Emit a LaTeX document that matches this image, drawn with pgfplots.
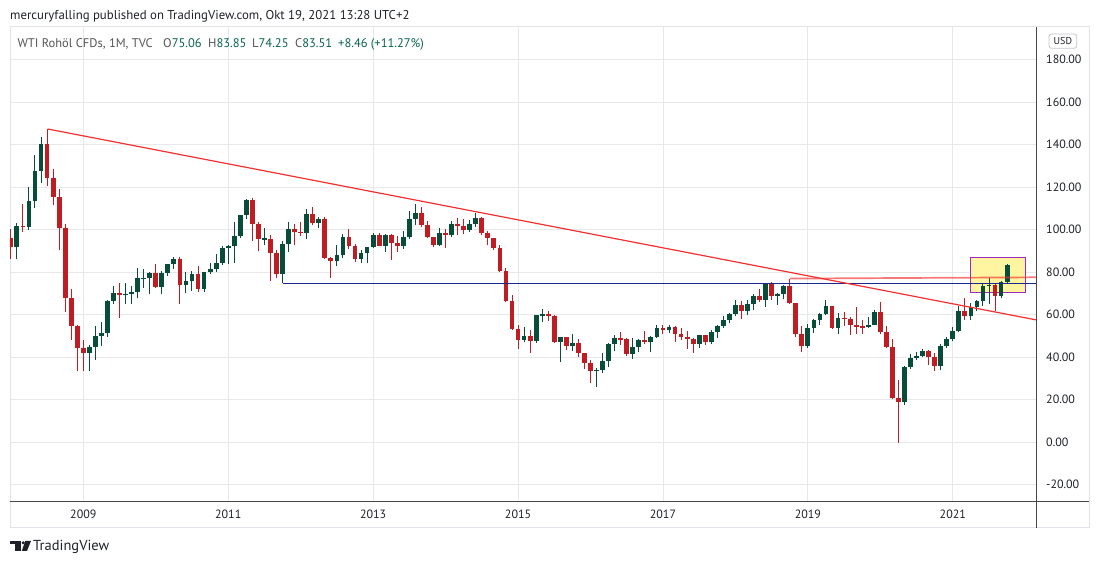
\documentclass[border=0pt]{standalone}
\usepackage{fontspec}
\setmainfont{PT Sans}
\usepackage{pgfplots}
\pgfplotsset{compat=1.18}
\usepackage{pgfplotstable}

\definecolor{upc}{RGB}{8,77,58}
\definecolor{dnc}{RGB}{190,30,35}
\definecolor{gridc}{RGB}{230,232,236}
\definecolor{framec}{RGB}{224,227,235}
\definecolor{axc}{RGB}{70,72,80}
\definecolor{txt}{RGB}{30,33,40}
\definecolor{trend}{RGB}{242,48,48}
\definecolor{navy}{RGB}{28,40,140}
\definecolor{boxfill}{RGB}{255,245,160}
\definecolor{boxline}{RGB}{160,40,190}
\definecolor{legg}{RGB}{85,85,85}
\definecolor{legv}{RGB}{8,100,78}

\pgfplotstableread{
m o h l c
0 96.0 100.1 86.1 91.8
1 91.8 103.0 86.1 101.8
2 101.8 111.8 98.7 101.4
3 101.4 119.9 99.6 113.5
4 113.5 135.1 110.1 127.4
5 127.4 143.7 122.0 140.0
6 140.0 147.3 120.4 124.1
7 124.1 128.6 111.3 115.5
8 115.5 118.9 90.2 100.6
9 100.6 102.8 61.3 67.8
10 67.8 71.9 48.0 54.4
11 54.4 55.0 33.5 44.0
12 44.0 48.0 33.2 41.7
13 41.7 45.6 33.4 44.8
14 44.8 54.7 38.7 49.7
15 49.7 56.5 45.3 51.1
16 51.1 66.6 49.3 66.3
17 66.3 73.4 64.9 69.9
18 69.9 75.0 58.3 69.4
19 69.4 75.0 65.0 69.8
20 69.8 73.4 65.0 70.6
21 70.6 82.0 67.6 77.0
22 77.0 81.5 72.4 77.3
23 77.3 80.0 69.5 79.4
24 79.4 83.9 72.4 72.9
25 72.9 80.5 69.5 79.7
26 79.7 83.9 78.3 83.8
27 83.8 87.1 81.4 86.2
28 86.2 87.0 65.0 74.0
29 74.0 79.9 69.9 75.6
30 75.6 80.3 71.1 79.0
31 79.0 82.9 70.8 71.9
32 71.9 80.1 70.8 80.0
33 80.0 84.4 79.0 81.4
34 81.4 88.6 79.9 84.1
35 84.1 92.0 83.1 91.4
36 91.4 92.6 83.9 92.2
37 92.2 103.4 84.1 97.0
38 97.0 107.0 96.0 106.7
39 106.7 114.2 104.9 113.9
40 113.9 114.8 94.6 102.7
41 102.7 103.4 89.7 95.4
42 95.4 100.6 92.6 95.7
43 95.7 97.5 75.7 88.8
44 88.8 90.5 77.1 79.2
45 79.2 94.7 74.9 93.2
46 93.2 103.4 89.2 100.4
47 100.4 102.4 92.5 98.8
48 98.8 103.7 97.0 98.5
49 98.5 109.8 95.4 107.1
50 107.1 110.6 102.1 103.0
51 103.0 106.0 100.7 104.9
52 104.9 106.1 86.2 86.5
53 86.5 86.9 77.3 85.0
54 85.0 92.9 82.9 88.1
55 88.1 97.8 86.8 96.5
56 96.5 100.4 90.8 92.2
57 92.2 93.2 84.9 86.2
58 86.2 90.3 84.1 88.9
59 88.9 91.9 84.1 91.8
60 91.8 98.2 91.4 97.5
61 97.5 98.2 92.0 92.1
62 92.1 97.7 89.3 97.2
63 97.2 97.8 85.6 93.5
64 93.5 97.0 89.6 92.0
65 92.0 99.2 90.8 96.6
66 96.6 108.9 95.7 105.0
67 105.0 112.2 102.2 107.7
68 107.7 110.7 101.4 102.3
69 102.3 104.0 95.8 96.4
70 96.4 96.7 91.8 92.7
71 92.7 100.8 92.2 98.4
72 98.4 100.0 91.2 97.5
73 97.5 103.8 96.6 102.6
74 102.6 105.2 97.4 101.6
75 101.6 104.9 97.9 99.7
76 99.7 104.5 98.9 102.7
77 102.7 107.7 101.4 105.4
78 105.4 106.0 97.3 98.2
79 98.2 99.2 92.5 96.0
80 96.0 96.2 90.4 91.2
81 91.2 92.6 79.8 80.5
82 80.5 82.0 65.7 66.2
83 66.2 69.0 52.7 53.3
84 53.3 54.9 43.6 48.2
85 48.2 54.2 47.0 49.8
86 49.8 52.5 42.0 47.6
87 47.6 59.9 46.7 59.6
88 59.6 62.6 56.5 60.3
89 60.3 61.8 57.0 59.5
90 59.5 59.7 46.7 47.1
91 47.1 49.3 37.8 49.2
92 49.2 49.5 43.2 45.1
93 45.1 50.9 43.0 46.6
94 46.6 48.4 39.9 41.7
95 41.7 42.0 34.5 37.0
96 37.0 38.4 27.6 33.6
97 33.6 34.8 26.1 33.8
98 33.8 41.9 32.3 38.3
99 38.3 46.8 35.2 45.9
100 45.9 50.2 43.0 49.1
101 49.1 51.7 45.8 48.3
102 48.3 49.0 40.6 41.6
103 41.6 48.8 39.2 44.7
104 44.7 48.4 42.5 48.2
105 48.2 52.2 46.0 46.9
106 46.9 49.9 42.2 49.4
107 49.4 55.2 49.0 53.7
108 53.7 55.2 50.7 52.8
109 52.8 54.9 51.2 54.0
110 54.0 54.5 47.1 50.6
111 50.6 53.8 48.2 49.3
112 49.3 52.0 43.8 48.3
113 48.3 48.9 42.0 46.0
114 46.0 50.4 44.4 50.2
115 50.2 50.4 45.6 47.2
116 47.2 52.9 46.0 51.7
117 51.7 54.9 49.1 54.4
118 54.4 59.1 53.8 57.4
119 57.4 60.5 55.8 60.4
120 60.4 66.7 59.1 64.7
121 64.7 66.4 58.1 61.6
122 61.6 66.6 59.9 64.9
123 64.9 69.6 62.3 68.6
124 68.6 72.0 65.8 67.0
125 67.0 74.5 63.6 74.2
126 74.2 75.3 67.0 68.8
127 68.8 70.3 64.4 69.8
128 69.8 73.9 67.1 73.3
129 73.3 76.9 64.9 65.3
130 65.3 65.4 49.4 50.9
131 50.9 54.5 42.4 45.4
132 45.4 55.4 44.4 53.8
133 53.8 57.8 51.2 57.2
134 57.2 60.7 55.1 60.1
135 60.1 66.6 59.7 63.9
136 63.9 63.9 53.0 53.5
137 53.5 60.9 50.6 58.5
138 58.5 61.0 54.7 58.1
139 58.1 58.8 50.5 55.1
140 55.1 63.4 50.9 54.1
141 54.3 57.5 50.9 54.0
142 54.0 58.7 53.8 55.2
143 55.2 61.9 55.0 61.1
144 61.1 65.7 50.6 51.6
145 51.6 54.7 44.0 44.8
146 44.8 48.7 20.0 20.5
147 20.5 29.1 -0.3 18.8
148 18.8 35.6 17.3 35.5
149 35.5 41.6 34.5 39.3
150 39.3 42.5 38.7 40.3
151 40.3 43.8 40.0 42.6
152 42.6 43.4 36.1 40.2
153 40.2 41.9 33.6 35.8
154 35.8 45.9 33.8 45.3
155 45.3 49.3 44.2 48.5
156 48.5 53.9 47.3 52.2
157 52.2 63.8 51.6 61.5
158 61.5 67.9 57.3 59.2
159 59.2 65.5 57.6 63.6
160 63.6 67.0 61.6 66.3
161 66.3 74.5 64.2 73.5
162 73.5 77.0 65.0 74.0
163 74.0 74.5 61.8 68.5
164 68.5 75.9 67.6 75.06
165 75.06 83.85 74.25 83.51
}\wti

\pgfplotsset{candle/.style={only marks, mark=*, mark size=0pt, mark options={draw=none, fill=none}}}

\begin{document}
\begin{tikzpicture}[x=1pt,y=1pt]
\path[use as bounding box] (0,0) rectangle (1100,564);
\draw[framec, line width=1pt] (10,36) rectangle (1089,537);
\begin{axis}[
  at={(10pt,62.3pt)}, anchor=south west, scale only axis,
  width=1026.7pt, height=474.7pt,
  xmin=-0.14, xmax=169.9, ymin=-28.1, ymax=195.3,
  axis line style={draw=none},
  major tick length=0pt, tick style={draw=none},
  xtick={12,36,60,84,108,132,156},
  xticklabels={2009,2011,2013,2015,2017,2019,2021},
  ytick={-20,0,20,40,60,80,100,120,140,160,180},
  yticklabels={-20.00,0.00,20.00,40.00,60.00,80.00,100.00,120.00,140.00,160.00,180.00},
  yticklabel pos=right,
  grid=major, major grid style={draw=gridc, line width=0.9pt},
  xticklabel style={font=\fontsize{12}{14}\selectfont, text=txt, anchor=base, yshift=-17pt},
  yticklabel style={font=\fontsize{12}{14}\selectfont, text=txt, anchor=west, inner sep=0pt, xshift=9.3pt},
  clip=true,
]
% highlight box
\addplot[fill=boxfill, draw=boxline, line width=1.5pt] coordinates {(158.9,70.4) (168.0,70.4) (168.0,86.9) (158.9,86.9)} --cycle;
% up wicks
\addplot[candle, color=upc, error bars/.cd, y dir=plus, y explicit, error mark=none,
  error bar style={draw=upc, line width=1pt, solid}]
  table[x=m, y expr={\thisrow{c}>=\thisrow{o} ? \thisrow{l} : nan}, y error plus expr={\thisrow{h}-\thisrow{l}}] {\wti};
% down wicks
\addplot[candle, color=dnc, error bars/.cd, y dir=plus, y explicit, error mark=none,
  error bar style={draw=dnc, line width=1pt, solid}]
  table[x=m, y expr={\thisrow{c}<\thisrow{o} ? \thisrow{l} : nan}, y error plus expr={\thisrow{h}-\thisrow{l}}] {\wti};
% up bodies
\addplot[candle, color=upc, error bars/.cd, y dir=both, y explicit, error mark=none,
  error bar style={draw=upc, line width=4.8pt, solid}]
  table[x=m, y expr={\thisrow{c}>=\thisrow{o} ? (\thisrow{o}+\thisrow{c})/2 : nan}, y error expr={max(abs(\thisrow{c}-\thisrow{o})/2,0.25)}] {\wti};
% down bodies
\addplot[candle, color=dnc, error bars/.cd, y dir=both, y explicit, error mark=none,
  error bar style={draw=dnc, line width=4.8pt, solid}]
  table[x=m, y expr={\thisrow{c}<\thisrow{o} ? (\thisrow{o}+\thisrow{c})/2 : nan}, y error expr={max(abs(\thisrow{c}-\thisrow{o})/2,0.25)}] {\wti};
% drawings
\addplot[navy, line width=1.3pt] coordinates {(45,74.7) (170,74.7)};
\addplot[trend, opacity=0.65, line width=1.7pt] coordinates {(129,76.9) (170,77.5)};
\addplot[trend, line width=1.2pt] coordinates {(6.1,147.3) (169.9,57.4)};
\end{axis}
% axis borders
\draw[axc, line width=1pt] (10,62.3) -- (1089,62.3);
\draw[axc, line width=1pt] (1036.7,36) -- (1036.7,537);
% USD box
\draw[framec!70!gray, line width=0.8pt, rounded corners=2.5pt, fill=white] (1049,515.7) rectangle (1076.7,530);
\node[font=\fontsize{10}{12}\selectfont, text=txt, inner sep=0pt] at (1062.9,522.8) {USD};
% header
\node[anchor=base west, inner sep=0pt, font=\fontsize{12.8}{14}\selectfont, text=txt] at (10,544.7)
  {mercuryfalling published on TradingView.com, Okt 19, 2021 13:28 UTC+2};
% legend
\begin{scope}[every node/.style={anchor=base west, inner sep=0pt, font=\fontsize{12.5}{14}\selectfont}]
\node[text=legg] at (17.3,516.7) {WTI Rohöl CFDs, 1M, TVC};
\node at (163,516.7) {\textcolor{legg}{O}\textcolor{legv}{75.06}};
\node at (208,516.7) {\textcolor{legg}{H}\textcolor{legv}{83.85}};
\node at (252,516.7) {\textcolor{legg}{L}\textcolor{legv}{74.25}};
\node at (295,516.7) {\textcolor{legg}{C}\textcolor{legv}{83.51}};
\node[text=legv] at (338,516.7) {+8.46 (+11.27\%)};
\end{scope}
% TradingView logo and name
\fill[txt] (10,19.5) rectangle (20.5,23);
\fill[txt] (15,13) rectangle (20.5,23);
\fill[txt] (23.2,21.2) circle (1.7);
\fill[txt] (25.2,23) -- (31,23) -- (27,13) -- (21.8,13) -- cycle;
\node[anchor=base west, inner sep=0pt, font=\fontsize{14.5}{16}\selectfont, text=txt] at (33,13) {TradingView};
\end{tikzpicture}
\end{document}
